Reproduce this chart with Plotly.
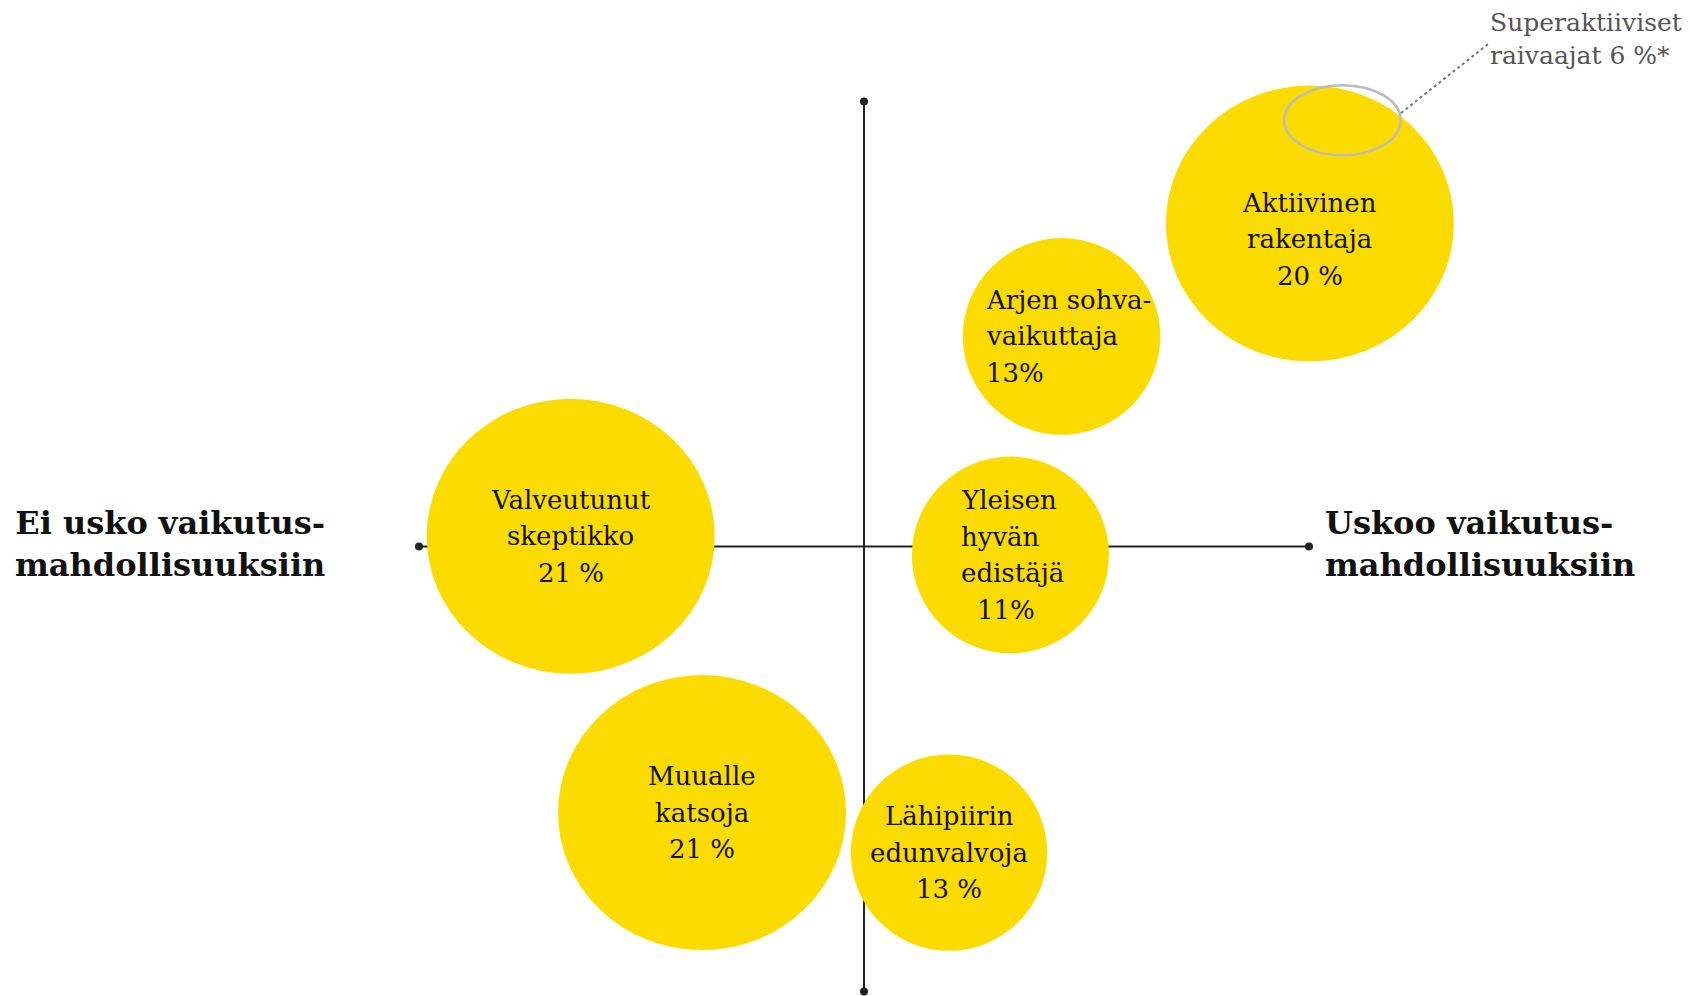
import plotly.graph_objects as go

# ---------------- data ----------------
segments = ["Aktiivinen rakentaja", "Arjen sohvavaikuttaja", "Valveutunut skeptikko",
            "Yleisen hyvän edistäjä", "Muualle katsoja", "Lähipiirin edunvalvoja"]
share_pct = [20, 13, 21, 11, 21, 13]
label_lines = [["Aktiivinen", "rakentaja", "20 %"],
               ["Arjen sohva-", "vaikuttaja", "13%"],
               ["Valveutunut", "skeptikko", "21 %"],
               ["Yleisen", "hyvän", "edistäjä", "11%"],
               ["Muualle", "katsoja", "21 %"],
               ["Lähipiirin", "edunvalvoja", "13 %"]]
# position on the map: belief in influence (x), activity (y), scale -1..1
belief = [1.002, 0.444, -0.659, 0.329, -0.364, 0.191]
activity = [0.726, 0.472, 0.023, -0.019, -0.598, -0.688]
sub_group = "Superaktiiviset<br>raivaajat 6 %*"
sub_belief, sub_activity = 1.0753, 0.958
axis_left_label = "Ei usko vaikutus-<br>mahdollisuuksiin"
axis_right_label = "Uskoo vaikutus-<br>mahdollisuuksiin"

# ---------------- styling ----------------
W, H = 1690, 996
PX = 445.0
BODY = 8.0            # page margin of the html body
X0, Y0 = 864.0, 546.5  # page position of the axis cross
YELLOW = "#FCDC00"
SERIF = "Georgia, 'DejaVu Serif', serif"
rad_x = [0.3236, 0.222, 0.3236, 0.2215, 0.3236, 0.2207]
rad_y = [0.310, 0.221, 0.309, 0.221, 0.309, 0.2207]
align = ["center", "left", "center", "left", "center", "center"]
x_off = [0, -78, 0, -51.5, 0, 0]
y_off = [16, 0, 0, 0, 0, 0]
indent = {(3, 3): 15.6}
LINE_STEP = 36.5


def ux(px):
    return (px - X0) / PX


def uy(py):
    return (Y0 - py) / PX


fig = go.Figure()
axis_col = "#222222"
fig.add_trace(go.Scatter(x=[-1, 1], y=[0, 0], mode="lines+markers",
                         line=dict(color=axis_col, width=2),
                         marker=dict(size=8, color=axis_col), hoverinfo="skip"))
fig.add_trace(go.Scatter(x=[0, 0], y=[-1, 1], mode="lines+markers",
                         line=dict(color=axis_col, width=2),
                         marker=dict(size=8, color=axis_col), hoverinfo="skip"))

shapes = []
for cx, cy, rx, ry in zip(belief, activity, rad_x, rad_y):
    shapes.append(dict(type="circle", xref="x", yref="y", x0=cx - rx, x1=cx + rx,
                       y0=cy - ry, y1=cy + ry, fillcolor=YELLOW, line=dict(width=0),
                       layer="above"))
# highlighted sub-group ellipse
shapes.append(dict(type="circle", xref="x", yref="y", x0=sub_belief - 0.1308, x1=sub_belief + 0.1308,
                   y0=sub_activity - 0.0787, y1=sub_activity + 0.0787,
                   line=dict(color="#BBBBBB", width=2.5), fillcolor="rgba(0,0,0,0)", layer="above"))
shapes.append(dict(type="line", xref="x", yref="y", x0=sub_belief + 0.1314, y0=sub_activity + 0.016,
                   x1=sub_belief + 0.3314, y1=sub_activity + 0.1746,
                   line=dict(color="#777777", width=2, dash="dot"), layer="above"))

annotations = []
for i, lines in enumerate(label_lines):
    n = len(lines)
    for j, t in enumerate(lines):
        ys = -((j - (n - 1) / 2) * LINE_STEP) - y_off[i]
        annotations.append(dict(x=belief[i], y=activity[i], xref="x", yref="y", text=t,
                                showarrow=False, xanchor=align[i], yanchor="middle",
                                xshift=x_off[i] + indent.get((i, j), 0), yshift=ys,
                                font=dict(family=SERIF, size=26, color="#111111")))

annotations.append(dict(x=ux(1488), y=uy(38.7), xref="x", yref="y", text=sub_group,
                        showarrow=False, xanchor="left", yanchor="middle", align="left",
                        font=dict(family=SERIF, size=25, color="#555555")))
annotations.append(dict(x=ux(170), y=uy(543.6), xref="x", yref="y",
                        text="<b>" + axis_left_label.replace("<br>", "</b><br><b>") + "</b>",
                        showarrow=False, xanchor="center", yanchor="middle", align="center",
                        font=dict(family=SERIF, size=32, color="#111111")))
annotations.append(dict(x=ux(1323), y=uy(543.6), xref="x", yref="y",
                        text="<b>" + axis_right_label.replace("<br>", "</b><br><b>") + "</b>",
                        showarrow=False, xanchor="left", yanchor="middle", align="left",
                        font=dict(family=SERIF, size=32, color="#111111")))

fx0, fy0 = X0 - BODY, Y0 - BODY
fig.update_layout(width=W, height=H, margin=dict(l=0, r=0, t=0, b=0),
                  paper_bgcolor="white", plot_bgcolor="white", showlegend=False,
                  shapes=shapes, annotations=annotations,
                  xaxis=dict(range=[-fx0 / PX, (W - fx0) / PX], visible=False, fixedrange=True),
                  yaxis=dict(range=[-(H - fy0) / PX, fy0 / PX], visible=False, fixedrange=True))
fig.write_html("out.html")
